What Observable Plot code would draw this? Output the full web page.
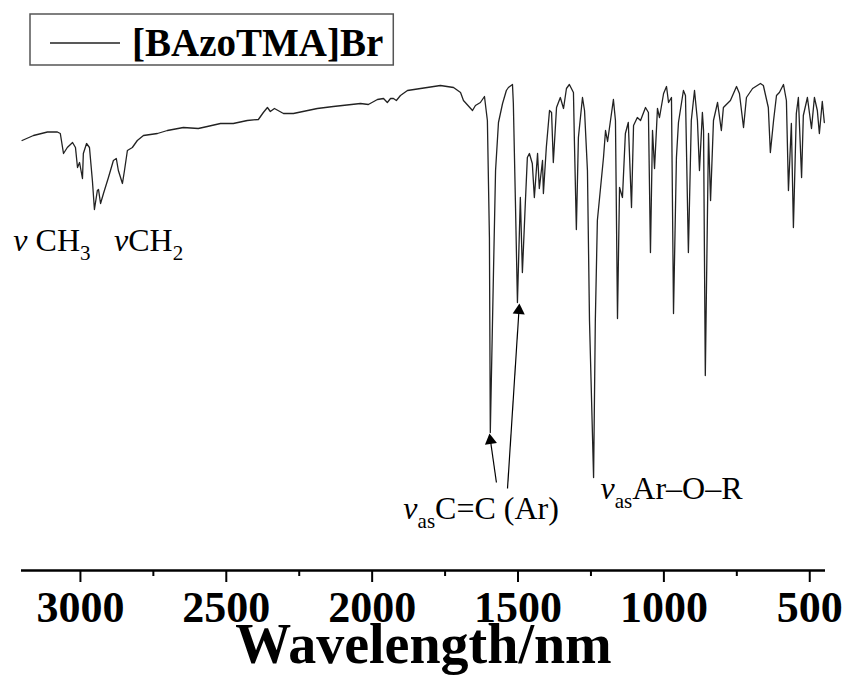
<!DOCTYPE html>
<html><head><meta charset="utf-8">
<script src="https://cdn.jsdelivr.net/npm/d3@7"></script>
<script src="https://cdn.jsdelivr.net/npm/@observablehq/plot@0.6"></script>
<style>body{margin:0;background:#fff;}</style>
</head><body><div id="chart"></div>
<script>
const wavenumber = [3200,3161,3113,3079,3069,3058,3045,3027,3017,3010,3003,2993,2990,2979,2969,2959,2952,2942,2938,2931,2921,2904,2887,2877,2870,2856,2849,2839,2822,2805,2784,2736,2702,2647,2596,2565,2520,2476,2428,2390,2373,2359,2349,2335,2304,2270,2188,2133,2040,2013,1982,1961,1948,1937,1927,1917,1903,1879,1834,1766,1721,1697,1687,1656,1646,1629,1615,1605,1598,1595,1584,1577,1567,1553,1540,1533,1519,1516,1509,1502,1492,1485,1475,1468,1461,1451,1444,1433,1427,1416,1413,1403,1392,1385,1379,1368,1355,1344,1334,1324,1310,1307,1300,1293,1279,1272,1262,1255,1241,1235,1228,1217,1207,1200,1193,1173,1166,1159,1152,1142,1132,1122,1111,1104,1091,1080,1063,1053,1046,1039,1032,1022,1015,1001,991,984,974,967,957,950,933,926,916,906,895,885,878,868,864,858,847,840,830,816,803,796,772,751,741,727,717,696,669,659,642,635,624,614,604,590,580,573,563,556,546,539,528,522,508,494,484,474,467,457,450];
const transmittance = [86,87,87.7,87.7,87.4,83.4,84.6,85.6,84.6,80.6,81.6,78.4,83.4,85.4,84.6,78,72.2,76,76.2,73.4,75.4,78.6,82,82.4,80,77.4,80,84,84.6,86,87,87.4,88,88.6,88.4,88.8,89.4,89.4,90,90.2,91.6,92.6,91.8,92.4,91.4,91.4,92.4,92.8,93.4,93.2,94.2,94.4,93.6,94.4,94.4,94,95,96,96.4,97,96.6,95.6,94,92,93,93.6,94.8,90,66.6,27.6,60,80,89.6,93.4,96,96.6,97.2,93.4,74,53.6,74.6,59.6,73.4,82.6,83.4,81.4,74.6,83.4,76.4,82,75.4,84.6,92,91.6,81.6,92.6,94.6,92.4,96.4,97.2,95.6,86.6,68.2,86.6,94.6,92,80,50,18.6,50,70,76.6,82.6,88,85.8,94.2,90,50.4,76.6,74.6,87.4,89.6,72.6,89,90.6,90,92.6,91.6,63.6,88,80.4,92.4,90.6,95.4,96.8,93.6,94.6,51.4,82.6,89.6,96,95,63.6,90,96,90,80,91.6,88,39,87.4,74,90,93.6,88,92.6,94,96.8,95.4,88.6,94.6,96.4,97.4,97,92.6,83.6,90,95,95.6,97.2,94,76,89.4,68.6,91.4,94.6,78.6,91,94.6,88.4,94.6,92,87.4,93.8,89.6];

const majorTicks = [3000, 2500, 2000, 1500, 1000, 500];
const minorTicks = [2750, 2250, 1750, 1250, 750];
const xAxisLabel = "Wavelength/nm";
const legendLabel = "[BAzoTMA]Br";

const annotationText = ["ν CH{3}", "νCH{2}", "ν{as}C=C (Ar)", "ν{as}Ar–O–R"];
const annotationX = [3230, 2885, 1893, 1217];
const annotationY = [66, 66, 12.4, 16.4];

const arrowTailX = [1574, 1536];
const arrowTailY = [17.6, 16.4];
const arrowTipX = [1594.5, 1496.8];
const arrowTipY = [26, 52];
const arrowAngle = [-8, 3.7];

const spectrum = wavenumber.map((w, i) => ({w, t: transmittance[i]}));
const annotations = annotationText.map((s, i) => ({s, x: annotationX[i], y: annotationY[i]}));
const arrows = arrowTailX.map((x, i) => ({x1: x, y1: arrowTailY[i], x2: arrowTipX[i], y2: arrowTipY[i], a: arrowAngle[i]}));

const serif = "'Liberation Serif', 'Times New Roman', serif";

const plot = Plot.plot({
  width: 843, height: 675,
  marginLeft: 21, marginRight: 18, marginTop: 70, marginBottom: 105,
  x: {domain: [3202, 446], axis: null, label: null},
  y: {domain: [0, 100], axis: null, label: null},
  style: {fontFamily: serif, background: "white", color: "black", overflow: "visible"},
  marks: [
    Plot.line(spectrum, {x: "w", y: "t", stroke: "#222", strokeWidth: 1.3}),
    Plot.ruleY([0], {stroke: "black", strokeWidth: 2.5}),
    Plot.axisX(minorTicks, {anchor: "bottom", tickSize: 6, tickFormat: () => "", strokeWidth: 2, label: null}),
    Plot.axisX(majorTicks, {anchor: "bottom", tickSize: 12, tickPadding: 8, strokeWidth: 2, fontSize: 44, fontWeight: "bold", label: null, tickFormat: d => String(d)}),
    Plot.text([xAxisLabel], {text: d => d, frameAnchor: "bottom", dy: 75, fontSize: 56, fontWeight: "bold", lineAnchor: "middle"}),
    Plot.link(arrows, {x1: "x1", y1: "y1", x2: "x2", y2: "y2", stroke: "black", strokeWidth: 1.2}),
    Plot.dot(arrows, {x: "x2", y: "y2", symbol: "triangle", r: 4.5, fill: "black", stroke: null, rotate: "a"}),
    Plot.text(annotations, {x: "x", y: "y", text: "s", textAnchor: "start", lineAnchor: "middle", fontSize: 32, fontWeight: "normal"})
  ]
});

document.getElementById("chart").appendChild(plot);
const svg = d3.select(plot);
svg.selectAll("text").style("font-family", serif);

// subscripts and italic nu
svg.selectAll("text").each(function() {
  const s = this.textContent;
  if (!s.includes("ν")) return;
  const el = d3.select(this);
  el.text("");
  const re = /(ν)|\{([^}]*)\}|([^ν{]+)/g;
  let m, lowered = false;
  while ((m = re.exec(s))) {
    const t = el.append("tspan");
    if (m[2] !== undefined) {
      t.attr("font-size", 21).attr("dy", lowered ? 0 : 9).text(m[2]);
      lowered = true;
    } else {
      if (lowered) { t.attr("dy", -9); lowered = false; }
      if (m[1]) t.attr("font-style", "italic").text("ν");
      else t.text(m[3]);
    }
  }
});

// legend box
const lg = svg.append("g");
const box = lg.append("rect").attr("x", 30).attr("y", 14).attr("height", 51)
  .attr("fill", "white").attr("stroke", "#555").attr("stroke-width", 1.5);
lg.append("line").attr("x1", 50).attr("x2", 120).attr("y1", 43).attr("y2", 43)
  .attr("stroke", "#222").attr("stroke-width", 1.3);
const lt = lg.append("text").attr("x", 132).attr("y", 56).attr("font-size", 39)
  .attr("font-weight", "bold").attr("fill", "black").attr("text-anchor", "start")
  .style("font-family", serif).text(legendLabel);
const tw = lt.node().getComputedTextLength();
box.attr("width", 132 + tw + 10 - 30);
</script>
</body></html>
